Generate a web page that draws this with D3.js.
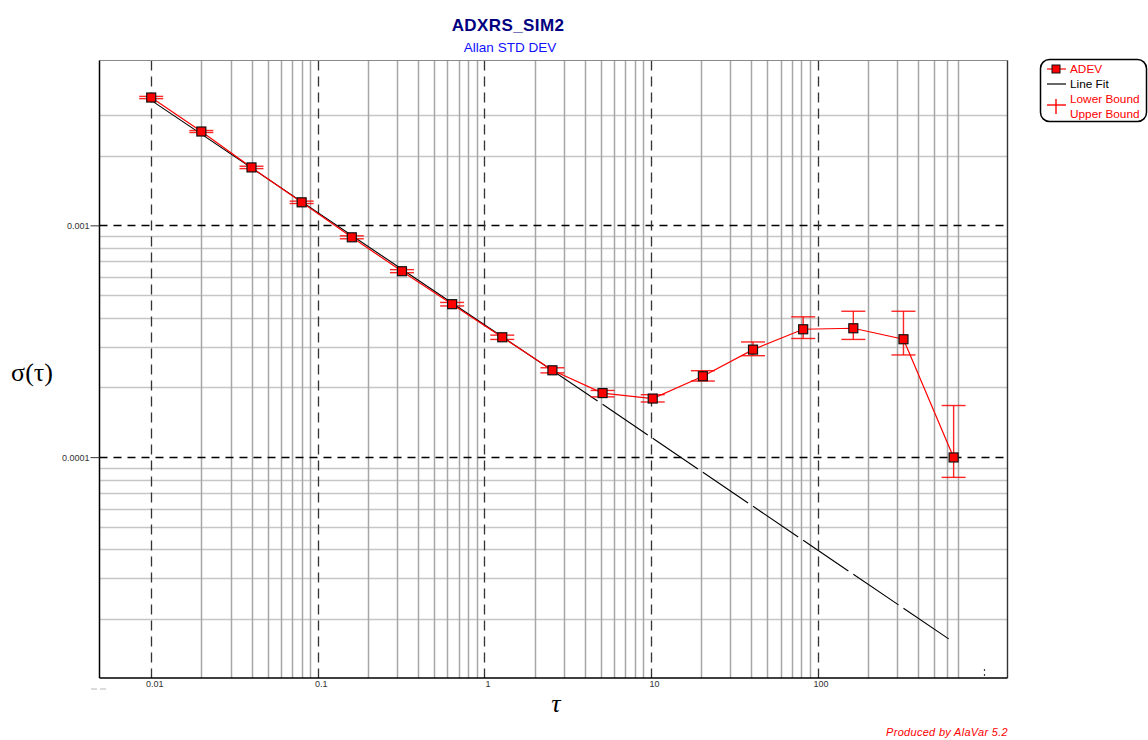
<!DOCTYPE html>
<html>
<head>
<meta charset="utf-8">
<script src="https://cdn.jsdelivr.net/npm/d3@7"></script>
<style>
  html, body { margin: 0; padding: 0; background: #ffffff; }
  svg { display: block; }
</style>
</head>
<body>
<svg id="chart" width="1148" height="740"></svg>
<script>
// ---------------- data ----------------
const tau = [0.01, 0.02, 0.04, 0.08, 0.16, 0.32, 0.64, 1.28, 2.56, 5.12, 10.24, 20.48, 40.96, 81.92, 163.84, 327.68, 655.36];
const adev = [0.00356, 0.00254, 0.001778, 0.001257, 0.000888, 0.000634, 0.000457, 0.000329, 0.000237, 0.000189, 0.000179, 0.0002234, 0.000291, 0.0003562, 0.0003598, 0.0003226, 0.0000997];
const lowerBound = [0.00352, 0.002515, 0.001757, 0.001242, 0.000875, 0.000625, 0.000449, 0.000322, 0.000231, 0.000182, 0.000173, 0.000213, 0.000274, 0.000325, 0.000322, 0.000276, 0.0000818];
const upperBound = [0.00360, 0.002565, 0.001799, 0.001272, 0.000901, 0.000644, 0.000465, 0.000336, 0.000243, 0.000194, 0.000186, 0.000236, 0.000314, 0.000403, 0.000426, 0.000426, 0.000167];

// line fit: solid over the fit range, extrapolated (dashed) beyond
const fitTau = [0.01, 5.12, 655.36];
const fitValues = [0.00346, 0.000169, 0.0000159];

const xMajorTicks = [0.01, 0.1, 1, 10, 100];
const xTickLabels = ["0.01", "0.1", "1", "10", "100"];
const xMinorGrid = [0.02, 0.03, 0.04, 0.05, 0.06, 0.07, 0.08, 0.09,
                    0.2, 0.3, 0.4, 0.5, 0.6, 0.7, 0.8, 0.9,
                    2, 3, 4, 5, 6, 7, 8, 9,
                    20, 30, 40, 50, 60, 70, 80, 90,
                    200, 300, 400, 500, 600, 700];
const xStubTick = [1000];

const yMajorTicks = [0.001, 0.0001];
const yTickLabels = ["0.001", "0.0001"];
const yMinorGrid = [0.003, 0.002,
                    0.0009, 0.0008, 0.0007, 0.0006, 0.0005, 0.0004, 0.0003, 0.0002,
                    0.00009, 0.00008, 0.00007, 0.00006, 0.00005, 0.00004, 0.00003, 0.00002];

const legendLabels = ["ADEV", "Line Fit", "Lower Bound", "Upper Bound"];

// ---------------- layout ----------------
const plot = { left: 99.5, right: 1007.5, top: 60.5, bottom: 678 };
const svg = d3.select("#chart");

const x = d3.scaleLog().domain([0.004894, 1380]).range([plot.left, plot.right]);
const y = d3.scaleLog().domain([0.005142, 0.00001115]).range([plot.top, plot.bottom]);

const RED = "#ff0000";
const gridG = svg.append("g");

// minor grid
gridG.selectAll(".hmin").data(yMinorGrid).join("line")
  .attr("x1", plot.left).attr("x2", plot.right)
  .attr("y1", d => Math.round(y(d)) + 0.5).attr("y2", d => Math.round(y(d)) + 0.5)
  .attr("stroke", "#c6c6c6").attr("stroke-width", 1.5);

gridG.selectAll(".vmin").data(xMinorGrid).join("line")
  .attr("x1", d => Math.round(x(d)) + 0.5).attr("x2", d => Math.round(x(d)) + 0.5)
  .attr("y1", plot.top).attr("y2", plot.bottom)
  .attr("stroke", "#a6a6a6").attr("stroke-width", 1.5);

// major dashed grid
gridG.selectAll(".hmaj").data(yMajorTicks).join("line")
  .attr("x1", plot.left).attr("x2", plot.right)
  .attr("y1", d => Math.round(y(d)) + 0.5).attr("y2", d => Math.round(y(d)) + 0.5)
  .attr("stroke", "#000").attr("stroke-width", 1.3).attr("stroke-dasharray", "8,6");

gridG.selectAll(".vmaj").data(xMajorTicks).join("line")
  .attr("x1", d => Math.round(x(d)) + 0.5).attr("x2", d => Math.round(x(d)) + 0.5)
  .attr("y1", plot.top).attr("y2", plot.bottom)
  .attr("stroke", "#333").attr("stroke-width", 1.3).attr("stroke-dasharray", "10,6");

gridG.selectAll(".vstub").data(xStubTick).join("line")
  .attr("x1", d => Math.round(x(d)) + 0.5).attr("x2", d => Math.round(x(d)) + 0.5)
  .attr("y1", plot.bottom - 9).attr("y2", plot.bottom)
  .attr("stroke", "#444").attr("stroke-width", 1.2).attr("stroke-dasharray", "2,3");

// frame
svg.append("line").attr("x1", plot.left).attr("x2", plot.right).attr("y1", plot.top).attr("y2", plot.top)
  .attr("stroke", "#8a8a8a").attr("stroke-width", 1.2);
svg.append("line").attr("x1", plot.right).attr("x2", plot.right).attr("y1", plot.top).attr("y2", plot.bottom)
  .attr("stroke", "#333").attr("stroke-width", 1.4);
svg.append("line").attr("x1", plot.left).attr("x2", plot.left).attr("y1", plot.top).attr("y2", plot.bottom)
  .attr("stroke", "#000").attr("stroke-width", 1.5);
svg.append("line").attr("x1", plot.left).attr("x2", plot.right).attr("y1", plot.bottom).attr("y2", plot.bottom)
  .attr("stroke", "#000").attr("stroke-width", 1.5);

// axes (tick labels)
const yAxis = d3.axisLeft(y).tickValues(yMajorTicks).tickSize(9)
  .tickFormat((d, i) => yTickLabels[i]);
const yAx = svg.append("g").attr("transform", `translate(${plot.left},0)`).call(yAxis);
yAx.select(".domain").remove();
yAx.selectAll(".tick line").attr("stroke", "#333").attr("stroke-width", 1);
yAx.selectAll(".tick text").attr("x", -10).attr("dy", "0.35em")
  .style("font-family", "Liberation Sans, Arial, sans-serif").style("font-size", "9px").attr("fill", "#333");

const xAxis = d3.axisBottom(x).tickValues(xMajorTicks).tickSize(0)
  .tickFormat((d, i) => xTickLabels[i]);
const xAx = svg.append("g").attr("transform", `translate(0,${plot.bottom})`).call(xAxis);
xAx.select(".domain").remove();
xAx.selectAll(".tick text").attr("y", 3).attr("dx", 3).attr("dy", "0.71em")
  .style("font-family", "Liberation Sans, Arial, sans-serif").style("font-size", "9px").attr("fill", "#333");

// small grey mark below the axis corner
svg.append("line").attr("x1", 91).attr("x2", 106).attr("y1", 689).attr("y2", 689)
  .attr("stroke", "#b8b8b8").attr("stroke-width", 1.2).attr("stroke-dasharray", "6,3");

// ---------------- line fit ----------------
const fitG = svg.append("g");
const fitGap = 6;
const solidLen = Math.hypot(x(fitTau[1]) - x(fitTau[0]), y(fitValues[1]) - y(fitValues[0]));
fitG.append("path")
  .attr("d", d3.line().x(d => x(d[0])).y(d => y(d[1]))([[fitTau[0], fitValues[0]], [fitTau[1], fitValues[1]]]))
  .attr("fill", "none").attr("stroke", "#000").attr("stroke-width", 1.1)
  .attr("stroke-dasharray", `${solidLen - fitGap},${fitGap + 50}`);
// dash period = distance between consecutive tau points along the extrapolated line
const slopePx = (y(fitValues[2]) - y(fitValues[1])) / (x(fitTau[2]) - x(fitTau[1]));
const stepX = x(tau[10]) - x(tau[9]);
const period = stepX * Math.sqrt(1 + slopePx * slopePx);
fitG.append("path")
  .attr("d", d3.line().x(d => x(d[0])).y(d => y(d[1]))([[fitTau[1], fitValues[1]], [fitTau[2], fitValues[2]]]))
  .attr("fill", "none").attr("stroke", "#000").attr("stroke-width", 1.1)
  .attr("stroke-dasharray", `${period - fitGap},${fitGap}`);

// ---------------- ADEV ----------------
const pts = tau.map((t, i) => ({ t, v: adev[i], lo: lowerBound[i], hi: upperBound[i] }));

svg.append("path")
  .attr("d", d3.line().x(d => x(d.t)).y(d => y(d.v))(pts))
  .attr("fill", "none").attr("stroke", RED).attr("stroke-width", 1.2);

const capW = 12;
const errG = svg.append("g").attr("stroke", RED).attr("stroke-width", 1.4).attr("stroke-opacity", 0.85);
errG.selectAll(".ev").data(pts).join("line")
  .attr("x1", d => x(d.t)).attr("x2", d => x(d.t))
  .attr("y1", d => y(d.hi)).attr("y2", d => y(d.lo));
errG.selectAll(".eh").data(pts).join("line")
  .attr("x1", d => x(d.t) - capW).attr("x2", d => x(d.t) + capW)
  .attr("y1", d => y(d.hi)).attr("y2", d => y(d.hi));
errG.selectAll(".el").data(pts).join("line")
  .attr("x1", d => x(d.t) - capW).attr("x2", d => x(d.t) + capW)
  .attr("y1", d => y(d.lo)).attr("y2", d => y(d.lo));

const ms = 9;
svg.selectAll(".mk").data(pts).join("rect")
  .attr("x", d => x(d.t) - ms / 2).attr("y", d => y(d.v) - ms / 2)
  .attr("width", ms).attr("height", ms)
  .attr("fill", RED).attr("stroke", "#111").attr("stroke-width", 1.2);

// ---------------- titles ----------------
svg.append("text").attr("x", 508).attr("y", 31).attr("text-anchor", "middle")
  .style("font-family", "Liberation Sans, Arial, sans-serif").style("font-size", "17px").style("font-weight", "bold")
  .style("letter-spacing", "0.4px")
  .attr("fill", "#000080").text("ADXRS_SIM2");
svg.append("text").attr("x", 510).attr("y", 52).attr("text-anchor", "middle")
  .style("font-family", "Liberation Sans, Arial, sans-serif").style("font-size", "13.5px")
  .attr("fill", "#1010ff").text("Allan STD DEV");

svg.append("text").attr("x", 32).attr("y", 381).attr("text-anchor", "middle")
  .style("font-family", "Liberation Serif, Times New Roman, serif").style("font-size", "26px")
  .attr("fill", "#000").text("σ(τ)");
svg.append("text").attr("x", 556).attr("y", 712).attr("text-anchor", "middle")
  .style("font-family", "Liberation Serif, Times New Roman, serif").style("font-size", "26px").style("font-style", "italic")
  .attr("fill", "#000").text("τ");

svg.append("text").attr("x", 1008).attr("y", 736).attr("text-anchor", "end")
  .style("font-family", "Liberation Sans, Arial, sans-serif").style("font-size", "11px").style("font-style", "italic")
  .style("letter-spacing", "0.3px")
  .attr("fill", "#ff0000").text("Produced by AlaVar 5.2");

// ---------------- legend ----------------
const lg = svg.append("g");
lg.append("rect").attr("x", 1040.5).attr("y", 59.5).attr("width", 106).attr("height", 62).attr("rx", 9)
  .attr("fill", "#fff").attr("stroke", "#000").attr("stroke-width", 1.5);
const lx0 = 1047, lx1 = 1066, lxm = 1056, tx = 1070;
const rowY = [69, 84, 99, 114];
lg.append("line").attr("x1", lx0).attr("x2", lx1).attr("y1", rowY[0]).attr("y2", rowY[0]).attr("stroke", RED).attr("stroke-width", 1.2);
lg.append("rect").attr("x", lxm - 4).attr("y", rowY[0] - 4).attr("width", 8).attr("height", 8)
  .attr("fill", RED).attr("stroke", "#111").attr("stroke-width", 1);
lg.append("line").attr("x1", lx0).attr("x2", lx1).attr("y1", rowY[1]).attr("y2", rowY[1]).attr("stroke", "#000").attr("stroke-width", 1.2);
lg.append("line").attr("x1", lx0).attr("x2", lx1).attr("y1", 105).attr("y2", 105).attr("stroke", RED).attr("stroke-width", 1.4);
lg.append("line").attr("x1", lxm).attr("x2", lxm).attr("y1", 99).attr("y2", 114).attr("stroke", RED).attr("stroke-width", 1.4);
const legendColors = [RED, "#000", RED, RED];
lg.selectAll(".lt").data(legendLabels).join("text")
  .attr("x", tx).attr("y", (d, i) => rowY[i] + 4)
  .style("font-family", "Liberation Sans, Arial, sans-serif").style("font-size", "11.8px")
  .attr("fill", (d, i) => legendColors[i]).text(d => d);
</script>
</body>
</html>
